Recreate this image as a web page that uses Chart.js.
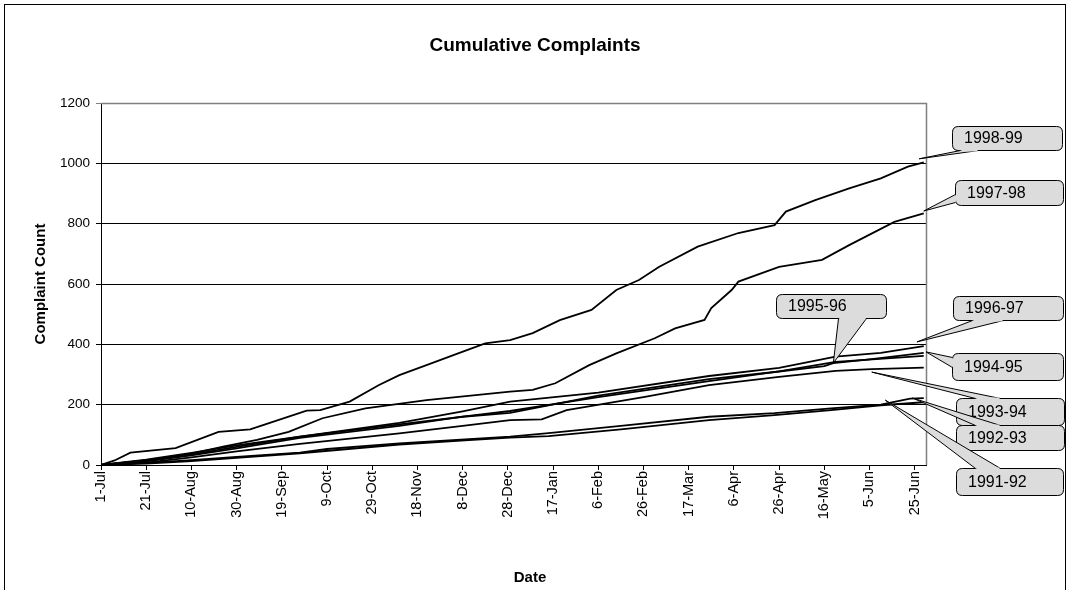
<!DOCTYPE html>
<html>
<head>
<meta charset="utf-8">
<script src="https://cdn.jsdelivr.net/npm/chart.js@4.4.1/dist/chart.umd.min.js"></script>
<style>
  html, body { margin: 0; padding: 0; background: #fff; }
  #wrap { width: 1069px; height: 590px; }
</style>
</head>
<body>
<div id="wrap"><canvas id="complaintChart" width="1069" height="590"></canvas></div>
<script>
// Axis ticks (day of year counted from 1-Jul)
const tickDays = [0, 20, 40, 60, 80, 100, 120, 140, 160, 180, 200, 220, 240, 260, 280, 300, 320, 340, 360];
const tickLabels = ["1-Jul", "21-Jul", "10-Aug", "30-Aug", "19-Sep", "9-Oct", "29-Oct", "18-Nov", "8-Dec",
  "28-Dec", "17-Jan", "6-Feb", "26-Feb", "17-Mar", "6-Apr", "26-Apr", "16-May", "5-Jun", "25-Jun"];
const yTicks = [0, 200, 400, 600, 800, 1000, 1200];

// Series
const seriesNames = ["1991-92", "1992-93", "1993-94", "1994-95", "1995-96", "1996-97", "1997-98", "1998-99"];

const days9192 = [0, 20, 40, 60, 88, 132, 161, 181, 198, 230, 269, 298, 323, 345, 364];
const vals9192 = [0, 5, 13, 24, 39, 68, 82, 91, 96, 118, 149, 165, 182, 198, 208];

const days9293 = [0, 20, 40, 60, 88, 100, 132, 161, 181, 198, 230, 269, 298, 323, 345, 358, 364];
const vals9293 = [0, 7, 16, 27, 41, 53, 72, 85, 94, 106, 130, 160, 172, 188, 200, 220, 222];

const days9394 = [0, 20, 40, 60, 88, 132, 160, 181, 195, 206, 240, 269, 300, 325, 341, 364];
const vals9394 = [0, 8, 25, 45, 70, 105, 130, 149, 151, 182, 225, 265, 292, 312, 318, 323];

const days9495 = [0, 20, 40, 60, 88, 132, 160, 181, 220, 269, 300, 325, 364];
const vals9495 = [0, 12, 32, 55, 90, 130, 160, 179, 225, 278, 310, 342, 362];

const days9596 = [0, 20, 40, 60, 88, 132, 160, 181, 220, 269, 300, 320, 324, 340, 364];
const vals9596 = [0, 15, 35, 60, 94, 135, 160, 173, 230, 285, 310, 328, 338, 350, 372];

const days9697 = [0, 20, 40, 60, 88, 132, 160, 181, 220, 269, 300, 325, 345, 364];
const vals9697 = [0, 18, 40, 65, 94, 140, 178, 210, 240, 295, 322, 359, 372, 394];

const days9798 = [0, 20, 40, 54, 69, 83, 98, 117, 144, 181, 191, 201, 216, 228, 245, 254, 267, 270, 279, 282, 300, 319, 331, 351, 364];
const vals9798 = [0, 15, 38, 61, 83, 110, 155, 188, 215, 243, 249, 271, 331, 370, 420, 453, 481, 520, 580, 608, 657, 680, 729, 806, 834];

const days9899 = [0, 6, 13, 33, 52, 66, 72, 91, 97, 110, 123, 132, 144, 158, 170, 181, 191, 203, 217, 228, 238, 247, 264, 282, 298, 303, 316, 331, 345, 357, 364];
const vals9899 = [0, 15, 41, 56, 110, 118, 133, 180, 182, 210, 265, 298, 331, 370, 403, 414, 437, 480, 514, 580, 613, 657, 724, 769, 795, 840, 878, 917, 950, 989, 1003];

const seriesDays = [days9192, days9293, days9394, days9495, days9596, days9697, days9798, days9899];
const seriesVals = [vals9192, vals9293, vals9394, vals9495, vals9596, vals9697, vals9798, vals9899];

// Where each callout pointer touches (day, count), same order as seriesNames
const calloutDays = [347, 359, 341, 365, 324, 361, 364, 362];
const calloutValues = [215, 222, 308, 375, 338, 408, 842, 1015];

// Callout box layout (pixels) and wedge base points on the box edge
const calloutBoxes = [
  { x: 956, y: 468, w: 107, h: 27, base: [975, 468, 1000, 468] },
  { x: 956, y: 425, w: 108, h: 25, base: [975, 425, 1000, 425] },
  { x: 956, y: 398, w: 108, h: 27, base: [975, 398, 1000, 398] },
  { x: 952, y: 353, w: 111, h: 27, base: [952, 357, 952, 367] },
  { x: 776, y: 294, w: 110, h: 24, base: [838, 318, 866, 318] },
  { x: 953, y: 296, w: 110, h: 24, base: [972, 320, 1003, 320] },
  { x: 955, y: 180, w: 108, h: 25, base: [955, 194, 955, 202] },
  { x: 952, y: 126, w: 110, h: 24, base: [960, 150, 978, 150] }
];
const drawOrder = [7, 6, 5, 4, 3, 2, 1, 0];

const FONT = "Arial, 'Liberation Sans', sans-serif";

const datasets = seriesNames.map((name, i) => ({
  label: name,
  data: seriesDays[i].map((d, j) => ({ x: d, y: seriesVals[i][j] })),
  borderColor: "#000",
  borderWidth: 1.8,
  pointRadius: 0,
  fill: false,
  tension: 0
}));

// White page, outer frame, chart title and x title
const framePlugin = {
  id: "frame",
  beforeDraw(chart) {
    const ctx = chart.ctx;
    ctx.save();
    ctx.fillStyle = "#fff";
    ctx.fillRect(0, 0, chart.width, chart.height);
    ctx.strokeStyle = "#000";
    ctx.lineWidth = 1;
    ctx.strokeRect(4.5, 4.5, 1061, 620);
    ctx.fillStyle = "#000";
    ctx.textAlign = "center";
    ctx.textBaseline = "middle";
    ctx.font = "bold 19px " + FONT;
    ctx.fillText("Cumulative Complaints", 535, 46);
    ctx.font = "bold 15px " + FONT;
    ctx.fillText("Date", 530, 578);
    ctx.restore();
  },
  afterDraw(chart) {
    const ctx = chart.ctx;
    const a = chart.chartArea;
    ctx.save();
    ctx.strokeStyle = "#808080";
    ctx.lineWidth = 1.5;
    ctx.beginPath();
    ctx.moveTo(a.left, a.top + 0.5);
    ctx.lineTo(a.right + 0.5, a.top + 0.5);
    ctx.lineTo(a.right + 0.5, a.bottom);
    ctx.stroke();
    ctx.restore();
  }
};

function roundRect(ctx, x, y, w, h, r) {
  ctx.beginPath();
  ctx.moveTo(x + r, y);
  ctx.lineTo(x + w - r, y);
  ctx.quadraticCurveTo(x + w, y, x + w, y + r);
  ctx.lineTo(x + w, y + h - r);
  ctx.quadraticCurveTo(x + w, y + h, x + w - r, y + h);
  ctx.lineTo(x + r, y + h);
  ctx.quadraticCurveTo(x, y + h, x, y + h - r);
  ctx.lineTo(x, y + r);
  ctx.quadraticCurveTo(x, y, x + r, y);
  ctx.closePath();
}

// Callout labels with pointer wedges
const calloutPlugin = {
  id: "callouts",
  afterDraw(chart) {
    const ctx = chart.ctx;
    const xs = chart.scales.x, ys = chart.scales.y;
    ctx.save();
    drawOrder.forEach(i => {
      const b = calloutBoxes[i];
      const tx = xs.getPixelForValue(calloutDays[i]);
      const ty = ys.getPixelForValue(calloutValues[i]);
      ctx.lineWidth = 1;
      ctx.strokeStyle = "#000";
      ctx.fillStyle = "#dcdcdc";
      roundRect(ctx, b.x + 0.5, b.y + 0.5, b.w, b.h, 6);
      ctx.fill();
      ctx.stroke();
      // wedge
      ctx.beginPath();
      ctx.moveTo(b.base[0] + 0.5, b.base[1] + 0.5);
      ctx.lineTo(tx, ty);
      ctx.lineTo(b.base[2] + 0.5, b.base[3] + 0.5);
      ctx.closePath();
      ctx.fill();
      ctx.beginPath();
      ctx.moveTo(b.base[0] + 0.5, b.base[1] + 0.5);
      ctx.lineTo(tx, ty);
      ctx.lineTo(b.base[2] + 0.5, b.base[3] + 0.5);
      ctx.stroke();
      // open the box edge where the wedge joins
      ctx.strokeStyle = "#dcdcdc";
      ctx.lineWidth = 2;
      ctx.beginPath();
      if (b.base[1] === b.base[3]) {
        ctx.moveTo(b.base[0] + 1.5, b.base[1] + 0.5);
        ctx.lineTo(b.base[2] - 0.5, b.base[3] + 0.5);
      } else {
        ctx.moveTo(b.base[0] + 0.5, b.base[1] + 1.5);
        ctx.lineTo(b.base[2] + 0.5, b.base[3] - 0.5);
      }
      ctx.stroke();
      // text
      ctx.fillStyle = "#000";
      ctx.font = "16px " + FONT;
      ctx.textAlign = "left";
      ctx.textBaseline = "middle";
      ctx.fillText(seriesNames[i], b.x + 12, b.y + b.h / 2 + 1);
    });
    ctx.restore();
  }
};

new Chart(document.getElementById("complaintChart"), {
  type: "line",
  data: { datasets },
  plugins: [framePlugin, calloutPlugin],
  options: {
    responsive: false,
    animation: false,
    devicePixelRatio: 1,
    layout: { padding: { left: 0, right: 143, top: 103, bottom: 0 } },
    plugins: {
      legend: { display: false },
      tooltip: { enabled: false },
      title: { display: false }
    },
    scales: {
      x: {
        type: "linear",
        min: 0,
        max: 365,
        afterBuildTicks: s => { s.ticks = tickDays.map(v => ({ value: v })); },
        afterFit: s => { s.height = 125; },
        ticks: {
          autoSkip: false,
          minRotation: 90,
          maxRotation: 90,
          padding: 1,
          color: "#000",
          font: { family: FONT, size: 14.5 },
          callback: v => tickLabels[tickDays.indexOf(v)]
        },
        grid: { drawOnChartArea: false, drawTicks: true, tickLength: 5, color: "#000" },
        border: { display: true, color: "#000", width: 1 },
        title: { display: false }
      },
      y: {
        min: 0,
        max: 1200,
        afterBuildTicks: s => { s.ticks = yTicks.map(v => ({ value: v })); },
        afterFit: s => { s.width = 101; },
        ticks: {
          padding: 6,
          color: "#000",
          font: { family: FONT, size: 13.5 },
          callback: v => String(v)
        },
        grid: {
          color: c => (c.tick && c.tick.value === 1200 ? "#808080" : "#000"),
          lineWidth: 1,
          tickLength: 5
        },
        border: { display: true, color: "#000", width: 1 },
        title: {
          display: true,
          text: "Complaint Count",
          color: "#000",
          font: { family: FONT, size: 15, weight: "bold" },
          padding: { top: 32, bottom: 0 }
        }
      }
    }
  }
});
</script>
</body>
</html>
